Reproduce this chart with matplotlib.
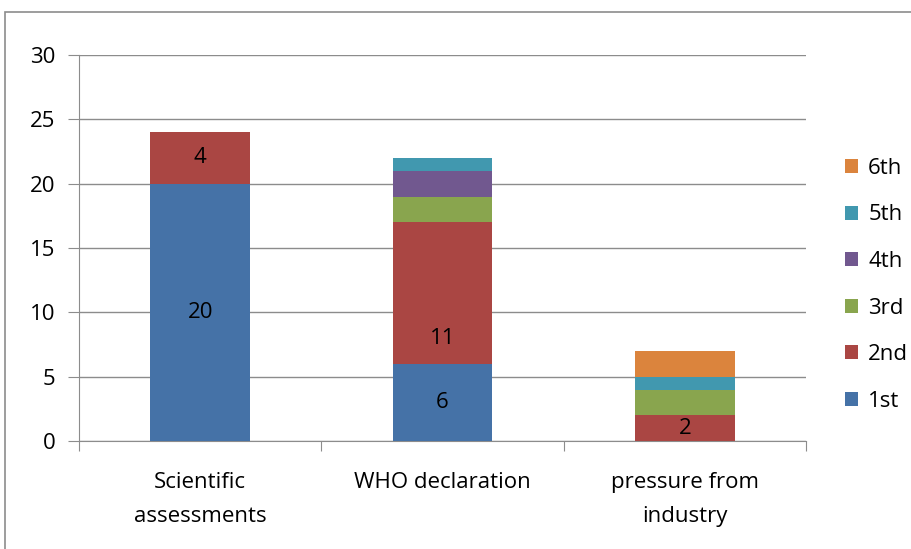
import matplotlib
matplotlib.use("Agg")
import matplotlib.pyplot as plt
from matplotlib.patches import Rectangle
import numpy as np

categories = ["Scientific\nassessments", "WHO declaration", "pressure from\nindustry"]
series_names = ["1st", "2nd", "3rd", "4th", "5th", "6th"]
first = [20, 6, 0]
second = [4, 11, 2]
third = [0, 2, 2]
fourth = [0, 2, 0]
fifth = [0, 1, 1]
sixth = [0, 0, 2]
colors = ["#4572A7", "#AA4643", "#89A54E", "#71588F", "#4198AF", "#DB843D"]
y_ticks = [0, 5, 10, 15, 20, 25, 30]

# which segments carry a value label, and where inside the segment it sits
labelled_series = {0: [0.5, 0.5, 0.5], 1: [0.5, 0.18, 0.5]}

FS = 16
plt.rcParams["font.family"] = ["Open Sans", "DejaVu Sans"]
fig = plt.figure(figsize=(9.11, 5.49), dpi=100)
ax = fig.add_axes([79 / 911, 1 - 441 / 549, (806 - 79) / 911, (441 - 55) / 549])

grid_c = "#8c8c8c"
x = np.arange(len(categories))
bottom = np.zeros(len(categories))
all_series = [first, second, third, fourth, fifth, sixth]
for i, vals in enumerate(all_series):
    vals = np.array(vals, dtype=float)
    ax.bar(x, vals, width=0.41, bottom=bottom, color=colors[i],
           label=series_names[i], zorder=3)
    if i in labelled_series:
        for j, v in enumerate(vals):
            if v > 0:
                ax.text(x[j], bottom[j] + v * labelled_series[i][j], f"{int(v)}",
                        ha="center", va="center", fontsize=FS, color="black", zorder=4)
    bottom += vals

ax.set_xlim(-0.5, len(categories) - 0.5)
ax.set_ylim(0, 30)
ax.set_yticks(y_ticks)
ax.yaxis.grid(True, color=grid_c, linewidth=1, zorder=0)
ax.set_axisbelow(True)

for s in ["top", "right"]:
    ax.spines[s].set_visible(False)
ax.spines["left"].set_color(grid_c)
ax.spines["bottom"].set_color(grid_c)

ax.tick_params(axis="y", length=8, color=grid_c, labelsize=FS, pad=9)
ax.set_xticks(np.arange(len(categories) + 1) - 0.5)
ax.set_xticklabels([])
ax.tick_params(axis="x", length=7, color=grid_c)
for j, c in enumerate(categories):
    ax.text(x[j], -2.4, c, ha="center", va="top", fontsize=FS,
            linespacing=1.85, transform=ax.transData)

handles, labels = ax.get_legend_handles_labels()
leg = fig.legend(handles[::-1], labels[::-1], loc="upper left",
                 bbox_to_anchor=(836 / 911, 1 - 149 / 549), frameon=False,
                 fontsize=FS, handlelength=0.6, handleheight=0.6,
                 labelspacing=1.15, handletextpad=0.45, borderaxespad=0)

# outer chart frame
fig.patches.append(Rectangle((5 / 911, -0.1), 1.2, (549 - 12) / 549 + 0.1,
                             transform=fig.transFigure, fill=False,
                             edgecolor="#8c8c8c", linewidth=1.2))

fig.savefig("out.png", dpi=100)
